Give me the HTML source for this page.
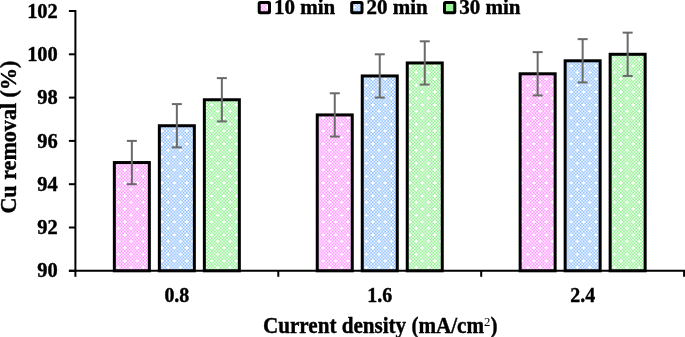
<!DOCTYPE html>
<html><head><meta charset="utf-8"><style>
html,body{margin:0;padding:0;background:#fff;}
body{width:685px;height:337px;overflow:hidden;}
svg{display:block;will-change:transform;}
text{font-family:"Liberation Serif", serif;font-weight:bold;fill:#000;stroke:#000;stroke-width:0.4px;}
</style></head><body>
<svg width="685" height="337" viewBox="0 0 685 337">
<defs>
<pattern id="p_pink" patternUnits="userSpaceOnUse" x="0.00" y="0.00" width="12.400" height="13.000">
<rect width="12.400" height="13.000" fill="#ffffff"/>
<path fill="#ff8aff" d="M3.100 0.000h1.55v1.625h-1.55zM6.200 0.000h1.55v1.625h-1.55zM9.300 0.000h1.55v1.625h-1.55zM1.550 1.625h1.55v1.625h-1.55zM4.650 1.625h1.55v1.625h-1.55zM7.750 1.625h1.55v1.625h-1.55zM10.850 1.625h1.55v1.625h-1.55zM0.000 3.250h1.55v1.625h-1.55zM3.100 3.250h1.55v1.625h-1.55zM6.200 3.250h1.55v1.625h-1.55zM9.300 3.250h1.55v1.625h-1.55zM1.550 4.875h1.55v1.625h-1.55zM4.650 4.875h1.55v1.625h-1.55zM7.750 4.875h1.55v1.625h-1.55zM10.850 4.875h1.55v1.625h-1.55zM0.000 6.500h1.55v1.625h-1.55zM3.100 6.500h1.55v1.625h-1.55zM9.300 6.500h1.55v1.625h-1.55zM1.550 8.125h1.55v1.625h-1.55zM4.650 8.125h1.55v1.625h-1.55zM7.750 8.125h1.55v1.625h-1.55zM10.850 8.125h1.55v1.625h-1.55zM0.000 9.750h1.55v1.625h-1.55zM3.100 9.750h1.55v1.625h-1.55zM6.200 9.750h1.55v1.625h-1.55zM9.300 9.750h1.55v1.625h-1.55zM1.550 11.375h1.55v1.625h-1.55zM4.650 11.375h1.55v1.625h-1.55zM7.750 11.375h1.55v1.625h-1.55zM10.850 11.375h1.55v1.625h-1.55z"/>
</pattern>
<pattern id="p_blue" patternUnits="userSpaceOnUse" x="0.00" y="0.00" width="12.400" height="13.000">
<rect width="12.400" height="13.000" fill="#ffffff"/>
<path fill="#86bbff" d="M3.100 0.000h1.55v1.625h-1.55zM6.200 0.000h1.55v1.625h-1.55zM9.300 0.000h1.55v1.625h-1.55zM1.550 1.625h1.55v1.625h-1.55zM4.650 1.625h1.55v1.625h-1.55zM7.750 1.625h1.55v1.625h-1.55zM10.850 1.625h1.55v1.625h-1.55zM0.000 3.250h1.55v1.625h-1.55zM3.100 3.250h1.55v1.625h-1.55zM6.200 3.250h1.55v1.625h-1.55zM9.300 3.250h1.55v1.625h-1.55zM1.550 4.875h1.55v1.625h-1.55zM4.650 4.875h1.55v1.625h-1.55zM7.750 4.875h1.55v1.625h-1.55zM10.850 4.875h1.55v1.625h-1.55zM0.000 6.500h1.55v1.625h-1.55zM3.100 6.500h1.55v1.625h-1.55zM9.300 6.500h1.55v1.625h-1.55zM1.550 8.125h1.55v1.625h-1.55zM4.650 8.125h1.55v1.625h-1.55zM7.750 8.125h1.55v1.625h-1.55zM10.850 8.125h1.55v1.625h-1.55zM0.000 9.750h1.55v1.625h-1.55zM3.100 9.750h1.55v1.625h-1.55zM6.200 9.750h1.55v1.625h-1.55zM9.300 9.750h1.55v1.625h-1.55zM1.550 11.375h1.55v1.625h-1.55zM4.650 11.375h1.55v1.625h-1.55zM7.750 11.375h1.55v1.625h-1.55zM10.850 11.375h1.55v1.625h-1.55z"/>
</pattern>
<pattern id="p_green" patternUnits="userSpaceOnUse" x="0.00" y="0.00" width="12.400" height="13.000">
<rect width="12.400" height="13.000" fill="#ffffff"/>
<path fill="#84f084" d="M3.100 0.000h1.55v1.625h-1.55zM6.200 0.000h1.55v1.625h-1.55zM9.300 0.000h1.55v1.625h-1.55zM1.550 1.625h1.55v1.625h-1.55zM4.650 1.625h1.55v1.625h-1.55zM7.750 1.625h1.55v1.625h-1.55zM10.850 1.625h1.55v1.625h-1.55zM0.000 3.250h1.55v1.625h-1.55zM3.100 3.250h1.55v1.625h-1.55zM6.200 3.250h1.55v1.625h-1.55zM9.300 3.250h1.55v1.625h-1.55zM1.550 4.875h1.55v1.625h-1.55zM4.650 4.875h1.55v1.625h-1.55zM7.750 4.875h1.55v1.625h-1.55zM10.850 4.875h1.55v1.625h-1.55zM0.000 6.500h1.55v1.625h-1.55zM3.100 6.500h1.55v1.625h-1.55zM9.300 6.500h1.55v1.625h-1.55zM1.550 8.125h1.55v1.625h-1.55zM4.650 8.125h1.55v1.625h-1.55zM7.750 8.125h1.55v1.625h-1.55zM10.850 8.125h1.55v1.625h-1.55zM0.000 9.750h1.55v1.625h-1.55zM3.100 9.750h1.55v1.625h-1.55zM6.200 9.750h1.55v1.625h-1.55zM9.300 9.750h1.55v1.625h-1.55zM1.550 11.375h1.55v1.625h-1.55zM4.650 11.375h1.55v1.625h-1.55zM7.750 11.375h1.55v1.625h-1.55zM10.850 11.375h1.55v1.625h-1.55z"/>
</pattern>
</defs>
<rect width="685" height="337" fill="#fff"/>
<rect x="114.35" y="162.55" width="35.00" height="108.25" fill="url(#p_pink)" stroke="#000" stroke-width="3"/>
<rect x="159.35" y="125.74" width="35.00" height="145.06" fill="url(#p_blue)" stroke="#000" stroke-width="3"/>
<rect x="204.35" y="99.76" width="35.00" height="171.04" fill="url(#p_green)" stroke="#000" stroke-width="3"/>
<rect x="317.25" y="114.92" width="35.00" height="155.88" fill="url(#p_pink)" stroke="#000" stroke-width="3"/>
<rect x="362.25" y="75.95" width="35.00" height="194.85" fill="url(#p_blue)" stroke="#000" stroke-width="3"/>
<rect x="407.25" y="62.96" width="35.00" height="207.84" fill="url(#p_green)" stroke="#000" stroke-width="3"/>
<rect x="520.15" y="73.79" width="35.00" height="197.01" fill="url(#p_pink)" stroke="#000" stroke-width="3"/>
<rect x="565.15" y="60.79" width="35.00" height="210.01" fill="url(#p_blue)" stroke="#000" stroke-width="3"/>
<rect x="610.15" y="54.30" width="35.00" height="216.50" fill="url(#p_green)" stroke="#000" stroke-width="3"/>
<line x1="75.4" y1="10.00" x2="75.4" y2="271.80" stroke="#000" stroke-width="2"/>
<line x1="68.9" y1="270.8" x2="685" y2="270.8" stroke="#000" stroke-width="2"/>
<line x1="68.9" y1="270.80" x2="75.4" y2="270.80" stroke="#000" stroke-width="2"/>
<line x1="68.9" y1="227.50" x2="75.4" y2="227.50" stroke="#000" stroke-width="2"/>
<line x1="68.9" y1="184.20" x2="75.4" y2="184.20" stroke="#000" stroke-width="2"/>
<line x1="68.9" y1="140.90" x2="75.4" y2="140.90" stroke="#000" stroke-width="2"/>
<line x1="68.9" y1="97.60" x2="75.4" y2="97.60" stroke="#000" stroke-width="2"/>
<line x1="68.9" y1="54.30" x2="75.4" y2="54.30" stroke="#000" stroke-width="2"/>
<line x1="68.9" y1="11.00" x2="75.4" y2="11.00" stroke="#000" stroke-width="2"/>
<line x1="75.40" y1="270.8" x2="75.40" y2="276.80" stroke="#000" stroke-width="2"/>
<line x1="278.30" y1="270.8" x2="278.30" y2="276.80" stroke="#000" stroke-width="2"/>
<line x1="481.20" y1="270.8" x2="481.20" y2="276.80" stroke="#000" stroke-width="2"/>
<line x1="684.10" y1="270.8" x2="684.10" y2="276.80" stroke="#000" stroke-width="2"/>
<line x1="131.85" y1="140.90" x2="131.85" y2="184.20" stroke="#6a6a6a" stroke-width="2"/>
<line x1="126.85" y1="140.90" x2="136.85" y2="140.90" stroke="#6a6a6a" stroke-width="2"/>
<line x1="126.85" y1="184.20" x2="136.85" y2="184.20" stroke="#6a6a6a" stroke-width="2"/>
<line x1="176.85" y1="104.09" x2="176.85" y2="147.39" stroke="#6a6a6a" stroke-width="2"/>
<line x1="171.85" y1="104.09" x2="181.85" y2="104.09" stroke="#6a6a6a" stroke-width="2"/>
<line x1="171.85" y1="147.39" x2="181.85" y2="147.39" stroke="#6a6a6a" stroke-width="2"/>
<line x1="221.85" y1="78.11" x2="221.85" y2="121.41" stroke="#6a6a6a" stroke-width="2"/>
<line x1="216.85" y1="78.11" x2="226.85" y2="78.11" stroke="#6a6a6a" stroke-width="2"/>
<line x1="216.85" y1="121.41" x2="226.85" y2="121.41" stroke="#6a6a6a" stroke-width="2"/>
<line x1="334.75" y1="93.27" x2="334.75" y2="136.57" stroke="#6a6a6a" stroke-width="2"/>
<line x1="329.75" y1="93.27" x2="339.75" y2="93.27" stroke="#6a6a6a" stroke-width="2"/>
<line x1="329.75" y1="136.57" x2="339.75" y2="136.57" stroke="#6a6a6a" stroke-width="2"/>
<line x1="379.75" y1="54.30" x2="379.75" y2="97.60" stroke="#6a6a6a" stroke-width="2"/>
<line x1="374.75" y1="54.30" x2="384.75" y2="54.30" stroke="#6a6a6a" stroke-width="2"/>
<line x1="374.75" y1="97.60" x2="384.75" y2="97.60" stroke="#6a6a6a" stroke-width="2"/>
<line x1="424.75" y1="41.31" x2="424.75" y2="84.61" stroke="#6a6a6a" stroke-width="2"/>
<line x1="419.75" y1="41.31" x2="429.75" y2="41.31" stroke="#6a6a6a" stroke-width="2"/>
<line x1="419.75" y1="84.61" x2="429.75" y2="84.61" stroke="#6a6a6a" stroke-width="2"/>
<line x1="537.65" y1="52.14" x2="537.65" y2="95.44" stroke="#6a6a6a" stroke-width="2"/>
<line x1="532.65" y1="52.14" x2="542.65" y2="52.14" stroke="#6a6a6a" stroke-width="2"/>
<line x1="532.65" y1="95.44" x2="542.65" y2="95.44" stroke="#6a6a6a" stroke-width="2"/>
<line x1="582.65" y1="39.14" x2="582.65" y2="82.44" stroke="#6a6a6a" stroke-width="2"/>
<line x1="577.65" y1="39.14" x2="587.65" y2="39.14" stroke="#6a6a6a" stroke-width="2"/>
<line x1="577.65" y1="82.44" x2="587.65" y2="82.44" stroke="#6a6a6a" stroke-width="2"/>
<line x1="627.65" y1="32.65" x2="627.65" y2="75.95" stroke="#6a6a6a" stroke-width="2"/>
<line x1="622.65" y1="32.65" x2="632.65" y2="32.65" stroke="#6a6a6a" stroke-width="2"/>
<line x1="622.65" y1="75.95" x2="632.65" y2="75.95" stroke="#6a6a6a" stroke-width="2"/>
<text transform="translate(57.8,277.40) scale(0.96,1)" font-size="21.3" text-anchor="end">90</text>
<text transform="translate(57.8,234.10) scale(0.96,1)" font-size="21.3" text-anchor="end">92</text>
<text transform="translate(57.8,190.80) scale(0.96,1)" font-size="21.3" text-anchor="end">94</text>
<text transform="translate(57.8,147.50) scale(0.96,1)" font-size="21.3" text-anchor="end">96</text>
<text transform="translate(57.8,104.20) scale(0.96,1)" font-size="21.3" text-anchor="end">98</text>
<text transform="translate(57.8,60.90) scale(0.96,1)" font-size="21.3" text-anchor="end">100</text>
<text transform="translate(57.8,17.60) scale(0.96,1)" font-size="21.3" text-anchor="end">102</text>
<text transform="translate(176.85,301.9) scale(0.95,1)" font-size="21" text-anchor="middle">0.8</text>
<text transform="translate(379.75,301.9) scale(0.95,1)" font-size="21" text-anchor="middle">1.6</text>
<text transform="translate(582.65,301.9) scale(0.95,1)" font-size="21" text-anchor="middle">2.4</text>
<text transform="translate(263,332.6) scale(0.942,1)" font-size="22.4">Current density (mA/cm<tspan font-size="13.5" font-weight="normal" stroke-width="0" dy="-7">2</tspan><tspan dy="7">)</tspan></text>
<text transform="translate(16.1,213.6) rotate(-90)" font-size="22.1">Cu removal (%)</text>
<rect x="259.20" y="2.4" width="10.3" height="10.3" rx="1" fill="url(#p_pink)" stroke="#000" stroke-width="3"/>
<text x="273.90" y="14.1" font-size="21">10 min</text>
<rect x="351.70" y="2.4" width="10.3" height="10.3" rx="1" fill="url(#p_blue)" stroke="#000" stroke-width="3"/>
<text x="366.40" y="14.1" font-size="21">20 min</text>
<rect x="444.50" y="2.4" width="10.3" height="10.3" rx="1" fill="#98f598" stroke="#000" stroke-width="3"/>
<text x="459.20" y="14.1" font-size="21">30 min</text>
</svg>
</body></html>
